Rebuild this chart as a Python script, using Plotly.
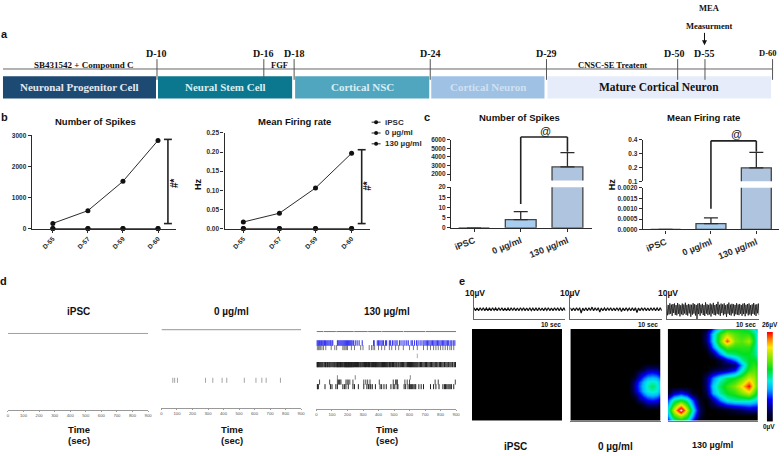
import plotly.graph_objects as go

W, H = 784, 456
FONT = "Liberation Sans"
NARROW = "Liberation Sans Narrow"
DARK = "#2b2b2b"

# ---------- data ----------
stages = ["Neuronal Progenitor Cell", "Neural Stem Cell", "Cortical NSC", "Cortical Neuron", "Mature Cortical Neuron"]
days = ["D-10", "D-16", "D-18", "D-24", "D-29", "D-50", "D-55", "D-60"]
sessions = ["D-55", "D-57", "D-59", "D-60"]
spikes_130 = [165, 575, 1520, 2840]
spikes_0 = [0, 0, 0, 0]
spikes_ipsc = [0, 0, 0, 0]
rate_130 = [0.017, 0.040, 0.106, 0.197]
rate_0 = [0, 0, 0, 0]
rate_ipsc = [0, 0, 0, 0]
groups = ["iPSC", "0 µg/ml", "130 µg/ml"]
group_spikes = [0, 4, 2840]
group_spikes_err = [0, 4, 1660]
group_rate = [0, 0.00028, 0.197]
group_rate_err = [0, 0.00028, 0.113]
raster_ticks = [0, 100, 200, 300, 400, 500, 600, 700, 800, 900]

mid_spikes = [73, 85, 103, 284, 331, 391, 421, 534, 609, 647, 675, 767]
top_segments = [0, 45, None, 48, 125, None, 128, 240, None, 243, 330, None, 333, 420, None, 423, 560, None, 563, 700, None, 703, 900]
blue_spikes = [2, 8, 14, 20, 27, 33, 40, 47, 52, 58, 66, 73, 80, 87, 92, 100, 105, 135, 140, 146, 152, 158, 164, 170, 176, 182,
               188, 194, 200, 206, 212, 218, 224, 230, 238, 250, 262, 275, 295, 368, 372, 392, 400, 408, 416, 424, 432, 445,
               452, 470, 478, 490, 500, 512, 520, 535, 545, 558, 570, 582, 592, 610, 618, 632, 645, 655, 668, 680, 692, 700,
               708, 716, 724, 732, 740, 748, 756, 764, 772, 780, 788, 796, 804, 812, 820, 828, 836, 844, 852, 862, 872, 882, 892]
row3_spikes = [5, 12, 18, 25, 35, 45, 60, 95, 118, 130, 170, 178, 185, 195, 200, 225, 245, 285, 300, 340, 355, 365, 375, 400,
               420, 440, 470, 485, 510, 530, 560, 600, 625, 650, 690, 715, 735, 755, 770, 785, 800, 815, 830, 845, 860, 870, 885]
row4_spikes = [650]
dense_spikes = [2, 7, 12, 18, 24, 30, 36, 42, 50, 58, 62, 70, 75, 82, 88, 95, 105, 112, 118, 125, 131, 136, 140, 145, 150, 155,
                160, 166, 171, 177, 182, 186, 190, 194, 198, 202, 206, 210, 214, 218, 222, 226, 231, 236, 240, 246, 252, 258,
                264, 270, 275, 282, 288, 295, 302, 310, 316, 322, 330, 336, 342, 350, 356, 362, 368, 375, 380, 386, 392, 398,
                404, 410, 416, 421, 426, 432, 438, 444, 450, 456, 462, 470, 476, 482, 490, 497, 505, 512, 518, 526, 532, 540,
                547, 555, 562, 570, 578, 586, 594, 600, 606, 612, 618, 624, 630, 636, 642, 648, 654, 662, 670, 678, 686, 694,
                702, 710, 718, 726, 734, 742, 750, 758, 766, 775, 783, 792, 800, 808, 816, 825, 834, 842, 850, 860, 868, 878, 888, 896]
row6_spikes = [135, 250, 605]
row7_spikes = [20, 85, 135, 142, 148, 152, 158, 190, 198, 205, 215, 235, 305, 318, 330, 345, 405, 495, 510, 515, 522, 570, 585,
               600, 765, 785, 895]
row8_spikes = [5, 8, 12, 55, 90, 100, 125, 135, 170, 180, 190, 205, 235, 245, 270, 305, 325, 335, 345, 350, 360, 380, 410, 420,
               435, 450, 480, 495, 505, 520, 525, 565, 575, 590, 600, 605, 612, 620, 628, 635, 640, 660, 675, 690, 735, 755,
               770, 790, 815, 825, 832, 840, 848, 855, 862, 870, 885]

trace_ipsc = [1.3, -1.2, 1.1, -1.3, 1.2, -1.1, 1.3, -1.2, 1.0, -1.3, 1.2, -1.2, 1.3, -1.0, 1.1, -1.3, 1.2, -1.1, 1.3, -1.2,
              1.1, -1.3, 1.0, -1.2, 1.3, -1.1, 1.2, -1.3, 1.1, -1.2, 1.3, -1.0, 1.2, -1.3, 1.1, -1.2, 1.3, -1.1, 1.0, -1.3,
              1.2, -1.2, 1.3, -1.1, 1.1, -1.3, 1.2, -1.0, 1.3, -1.2, 1.1, -1.3, 1.2, -1.1, 1.3, -1.2, 1.0, -1.3, 1.2, -1.2]
trace_0 = [1.2, -1.2, 1.1, -1.3, 1.2, -1.1, 1.3, -3.2, 1.0, -1.3, 1.2, -1.2, 1.3, -1.0, 1.8, -1.3, 1.2, -1.1, 1.3, -2.4,
           1.1, -1.3, 1.0, -1.2, 1.3, -1.1, 1.2, -1.3, 1.1, -1.2, 1.3, -1.0, 1.2, -2.0, 1.1, -1.2, 1.3, -1.1, 1.0, -1.3,
           1.2, -1.2, 1.3, -2.8, 1.1, -1.3, 1.2, -1.0, 1.3, -1.2, 1.1, -1.3, 1.2, -1.1, 1.3, -1.2, 1.0, -1.3, 1.2, -1.2]
trace_130 = [4.2, -5.1, 3.6, -4.4, 5.0, -3.8, 3.9, -5.6, 4.4, -3.2, 4.9, -4.8, 3.5, -5.2, 5.3, -3.9, 4.1, -6.0, 3.4, -4.3,
             4.8, -5.0, 4.0, -3.6, 5.5, -4.7, 3.7, -5.4, 4.5, -3.5, 4.0, -6.3, 3.8, -4.6, 5.1, -3.7, 4.3, -5.3, 3.6, -8.5,
             4.7, -4.1, 5.2, -5.5, 3.9, -3.4, 4.6, -4.9, 3.5, -5.7, 5.8, -3.8, 4.2, -5.0, 3.7, -4.4, 4.9, -6.1, 4.0, -3.6,
             5.4, -4.8, 3.6, -5.2, 4.4, -3.9, 6.3, -4.5, 3.8, -5.6, 4.8, -3.3, 4.1, -5.1, 5.0, -4.2, 3.5, -6.4, 4.3, -3.7,
             5.6, -4.9, 3.9, -5.3, 4.6, -3.5, 4.2, -5.8, 3.7, -4.3, 5.1, -4.7, 4.0, -5.0, 4.5, -3.8, 3.6, -5.5, 4.7, -4.1,
             5.2, -5.9, 3.8, -3.6, 4.4, -5.2, 4.9, -4.4, 3.5, -5.4, 4.1, -3.9, 5.3, -4.6, 3.9, -5.7, 4.2, -3.4, 4.8, -5.0]

rate_map_x = [0, 19, 38, 57, 76, 95, 115, 135, 155, 178, 200, 222, 244, 258, 271]
rate_map_y = [0, 15, 35, 55, 75, 95, 110, 125, 150, 174, 195, 215, 245, 265, 278]
map_130 = [
    [0, 0, 0, 0, 0, 0, 1, 7, 11, 14, 14, 14, 13, 11, 9],
    [0, 0, 0, 0, 0, 0, 3, 10, 15, 18, 16, 15, 15, 13, 10],
    [0, 0, 0, 0, 0, 0, 3, 10, 16, 23, 17, 16, 18, 14, 10],
    [0, 0, 0, 0, 0, 0, 1, 8, 13, 16, 15, 15, 15, 13, 10],
    [0, 0, 0, 0, 0, 0, 0, 3, 8, 12, 13, 14, 14, 13, 11],
    [0, 0, 0, 0, 0, 0, 0, 0, 2, 5, 8, 12, 14, 14, 13],
    [0, 0, 0, 0, 0, 0, 0, 0, 1, 2, 3, 9, 14, 15, 14],
    [0, 0, 0, 0, 0, 0, 0, 2, 3, 4, 6, 11, 15, 16, 15],
    [0, 0, 0, 0, 0, 0, 3, 8, 11, 13, 14, 16, 19, 18, 15],
    [0, 0, 0, 0, 0, 0, 3, 10, 13, 15, 17, 20, 24, 19, 15],
    [1, 4.5, 6, 4.5, 1, 0, 2, 9, 12, 14, 15, 17, 19, 16, 13],
    [7, 12, 14, 12, 7, 1, 0, 4, 8, 11, 12, 12, 12, 11, 10],
    [11, 19, 27, 19, 11, 3, 0, 0, 0.5, 1, 2, 3, 4, 4, 4],
    [8.5, 15, 18, 15, 8.5, 2, 0, 0, 0, 0, 0, 0, 0, 0, 0],
    [6, 11, 13, 11, 6, 0, 0, 0, 0, 0, 0, 0, 0, 0, 0],
]
mid_map_x = [0, 175, 190, 205, 220, 232, 245, 258, 271]
mid_map_y = [0, 103, 118, 133, 148, 161, 174, 187, 200, 215, 230, 245, 278]
map_0 = [
    [0, 0, 0, 0, 0, 0, 0, 0, 0],
    [0, 0, 0, 0, 0, 0, 0, 0, 0],
    [0, 0, 0, 0, 1.5, 3, 3, 3, 1.5],
    [0, 0, 0, 3, 4.5, 6, 6.5, 6, 4.5],
    [0, 0, 1.5, 4.5, 7.5, 9, 9.5, 9, 7.5],
    [0, 0, 3, 6.5, 9.3, 11, 11.5, 11, 9],
    [0, 0, 3.5, 7, 9.7, 11.5, 13, 11.5, 9.5],
    [0, 0, 3, 6.5, 9.3, 11, 11.5, 11, 9],
    [0, 0, 1.5, 4.5, 7.5, 9, 9.5, 9, 7.5],
    [0, 0, 0, 3, 4.5, 6, 6.5, 6, 4.5],
    [0, 0, 0, 0, 1.5, 3, 3, 3, 1.5],
    [0, 0, 0, 0, 0, 0, 0, 0, 0],
    [0, 0, 0, 0, 0, 0, 0, 0, 0],
]
map_ipsc = [[0, 0], [0, 0]]
scale_levels = [0, 2, 4, 6, 8, 10, 12, 14, 16, 18, 20, 22, 24]

# ---------- styles and positions ----------
stage_colors = ["#1d4a72", "#0b788f", "#50a6bf", "#9fc1e4", "#e6ecfa"]
stage_text = ["#e4e8f0", "#d8eef2", "#d8eef5", "#cfe0f2", "#111111"]
stage_px = [(2, 156), (158, 293), (296, 431), (433, 547), (550, 775)]
day_px = [157, 264.5, 295, 432, 549, 681, 708.5, 776.5]
day_label_px = [157, 264, 295, 432, 549, 678, 708, 771]
HEAT = [[0, "#000000"], [3/27, "#00005a"], [6/27, "#0000ff"], [9/27, "#00b4ff"], [11/27, "#00f0e0"], [14/27, "#00e020"],
        [17/27, "#80e800"], [20/27, "#ffe800"], [22/27, "#ff8000"], [24/27, "#ff0000"], [1, "#ffffff"]]

fig = go.Figure()
ann, shp = [], []
layout = {}
count = 0


def px(x):
    return x / W


def py(y):
    return 1 - y / H


def axes(x0, x1, top, bot, xopts, yopts):
    global count
    count += 1
    sx = "" if count == 1 else str(count)
    base = dict(showgrid=False, zeroline=False, showline=False, ticks="", showticklabels=False)
    xa = dict(base, domain=[px(x0), px(x1)], anchor="y" + sx)
    ya = dict(base, domain=[py(bot), py(top)], anchor="x" + sx)
    xa.update(xopts)
    ya.update(yopts)
    layout["xaxis" + sx] = xa
    layout["yaxis" + sx] = ya
    return "x" + sx, "y" + sx


def text(x, y, s, size=9, bold=True, color="#111111", family=FONT, angle=0, xanchor="center"):
    ann.append(dict(x=px(x), y=py(y), xref="paper", yref="paper", text=s, showarrow=False, xanchor=xanchor, yanchor="middle",
                    textangle=angle, font=dict(size=size, family=family, color=color, weight="bold" if bold else "normal")))


def rect(x0, y0, x1, y1, color):
    shp.append(dict(type="rect", xref="paper", yref="paper", x0=px(x0), x1=px(x1), y0=py(y1), y1=py(y0),
                    fillcolor=color, line=dict(width=0), layer="below"))


def line(x0, y0, x1, y1, color="#555555", width=1):
    shp.append(dict(type="line", xref="paper", yref="paper", x0=px(x0), x1=px(x1), y0=py(y0), y1=py(y1),
                    line=dict(color=color, width=width)))


# ---------- panel a ----------
line(2, 66, 776, 66, "#666666", 1)
for name, (a, b), c, tc in zip(stages, stage_px, stage_colors, stage_text):
    rect(a, 73.5, b, 96, c)
    text((a + b) / 2, 84.5, name, size=11.5 if name.startswith("Mature") else 11, color=tc, family=NARROW)
for d, x, lx in zip(days, day_px, day_label_px):
    line(x, 56, x, 77, "#555555", 1)
    text(lx, 50, d, size=10 if d != "D-60" else 8.5, family=NARROW)
text(83, 61.5, "SB431542 + Compound C", size=9, family=NARROW)
text(280, 62, "FGF", size=8.5, family=NARROW)
text(615, 62, "CNSC-SE Treatent", size=8.5, family=NARROW)
text(713, 4, "MEA", size=8.5, family=NARROW)
text(713, 22, "Measurment", size=8.5, family=NARROW)
ann.append(dict(x=px(708), y=py(42), xref="paper", yref="paper", ax=0, ay=-14, text="", showarrow=True, arrowhead=2,
                arrowsize=1, arrowwidth=1, arrowcolor="#111111"))
text(4, 30, "a", size=11, xanchor="center")

# ---------- panel b ----------
b_tick = dict(size=6.5, family=FONT, color=DARK, weight="bold")
axline = dict(showline=True, linecolor=DARK, linewidth=1.4, ticks="outside", ticklen=3, tickcolor=DARK, tickwidth=1.2,
              showticklabels=True)


def line_panel(x0, x1, top, bot, xr, yr, yticks, fmt, series, bracket):
    xa, ya = axes(x0, x1, top, bot, dict(axline, type="category", categoryorder="array", categoryarray=sessions, range=xr,
                                         tickangle=-45, tickfont=b_tick),
                  dict(axline, range=yr, tickvals=yticks, tickformat=fmt, tickfont=b_tick))
    for s in series:
        fig.add_trace(go.Scatter(x=sessions, y=s, mode="lines+markers", xaxis=xa, yaxis=ya, cliponaxis=False,
                                 line=dict(color=DARK, width=1), marker=dict(color="#111111", size=5), showlegend=False))
    return xa, ya


line_panel(31, 176, 133.5, 228, [-0.6, 3.51], [0, 3000], [0, 1000, 2000, 3000], "d",
           [spikes_ipsc, spikes_0, spikes_130], None)
xa, ya = line_panel(225, 371, 131, 228, [-0.52, 3.5], [0, 0.25], [0, 0.05, 0.10, 0.15, 0.20, 0.25], ".2f",
                    [rate_ipsc, rate_0, rate_130], None)
line(168, 137.5, 168, 223, "#222222", 1.6)
line(164, 137.5, 172, 137.5, "#222222", 1.6)
line(164, 223, 172, 223, "#222222", 1.6)
line(363, 148, 363, 223, "#222222", 1.6)
line(359, 148, 367, 148, "#222222", 1.6)
line(359, 223, 367, 223, "#222222", 1.6)
text(174, 182, "#*", size=10, angle=-90)
text(369, 185, "#*", size=10, angle=-90)
text(198, 183, "Hz", size=9, angle=-90)
text(95, 119, "Number of Spikes", size=9.5)
text(295, 119, "Mean Firing rate", size=9.5)
text(4, 115, "b", size=11)
for y, label, mk in zip([120, 131, 142], groups, ["star", "circle", "circle"]):
    line(373, y, 382, y, DARK, 1)
    shp.append(dict(type="circle", xref="paper", yref="paper", x0=px(375.5), x1=px(379.5), y0=py(y + 2), y1=py(y - 2),
                    fillcolor="#111111", line=dict(width=0)))
    text(384, y, label, size=8, xanchor="left", color=DARK)

# ---------- panel c ----------
c_tick = dict(size=6.5, family=FONT, color=DARK, weight="bold")
c_xtick = dict(size=9, family=FONT, color=DARK, weight="bold")
bar_colors = ["#a8cdee", "#a8cdee", "#afc4de"]


def bar_panel(x0, x1, up, low, xr, vals, errs, up_range, up_ticks, up_fmt, low_range, low_ticks, low_fmt):
    xa, ya = axes(x0, x1, low[0], low[1], dict(axline, type="category", categoryorder="array", categoryarray=groups, range=xr,
                                               tickangle=-22, tickfont=c_xtick),
                  dict(axline, range=low_range, tickvals=low_ticks, tickformat=low_fmt, tickfont=c_tick))
    xb, yb = axes(x0, x1, up[0], up[1], dict(type="category", categoryorder="array", categoryarray=groups, range=xr),
                  dict(axline, range=up_range, tickvals=up_ticks, tickformat=up_fmt, tickfont=c_tick))
    for xx, yy in ((xa, ya), (xb, yb)):
        fig.add_trace(go.Bar(x=groups, y=vals, xaxis=xx, yaxis=yy, width=0.66, showlegend=False,
                             marker=dict(color=bar_colors, line=dict(color="#444444", width=1.3)),
                             error_y=dict(type="data", array=errs, color=DARK, thickness=1.3, width=7, symmetric=False,
                                          arrayminus=[0, 0, 0])))
    return xa


xc1 = bar_panel(453, 595, (138, 179.3), (186, 227.3), [-0.49, 2.53], group_spikes, group_spikes_err,
                [1240, 6000], [2000, 3000, 4000, 5000, 6000], "d", [0, 20], [0, 5, 10, 15, 20], "d")
xc2 = bar_panel(646, 783, (138, 180), (186.7, 229), [-0.5, 2.5], group_rate, group_rate_err,
                [0.1, 0.4], [0.1, 0.2, 0.3, 0.4], ".1f", [0, 0.002], [0, 0.0005, 0.001, 0.0015, 0.002], ".4f")


def bracket(xa, left, right, y_left, y_top, y_right):
    for a, b, c, d in ((left, y_left, left, y_top), (left, y_top, right, y_top), (right, y_top, right, y_right)):
        shp.append(dict(type="line", xref=xa, yref="paper", x0=a, x1=c, y0=py(b), y1=py(d),
                        line=dict(color="#222222", width=1.6)))


bracket(xc1, 1, 2, 203, 135, 150)
bracket(xc2, 1, 2, 208, 139, 150)
text(548, 129, "@", size=11, bold=False)
text(740, 132, "@", size=11, bold=False)
text(522, 115, "Number of Spikes", size=9.5)
text(707, 115, "Mean Firing rate", size=9.5)
text(429, 115, "c", size=11)
text(615, 183, "Hz", size=9, angle=-90)

# ---------- panel d ----------
d_x = dict(range=[0, 900], tickvals=raster_ticks, showline=True, linecolor="#999999", linewidth=1, ticks="outside", ticklen=1.5,
           tickcolor="#999999", tickwidth=0.6, showticklabels=True, tickfont=dict(size=4.2, family=FONT, color="#555555"))
d_y = dict(range=[-0.8, 17])


def row(t, ch, xa, ya, color="#444444", size=3.6, width=0.8):
    fig.add_trace(go.Scatter(x=t, y=[ch] * len(t), mode="markers", xaxis=xa, yaxis=ya, showlegend=False,
                             marker=dict(symbol="line-ns", size=size, line=dict(color=color, width=width))))


def full_line(xa, ya, color, width):
    fig.add_trace(go.Scatter(x=[0, 900], y=[16, 16], mode="lines", xaxis=xa, yaxis=ya, showlegend=False,
                             line=dict(color=color, width=width)))


xa, ya = axes(7, 148, 330, 412, d_x, d_y)
full_line(xa, ya, "#888888", 0.8)
xa, ya = axes(161.5, 302, 326, 410, d_x, d_y)
full_line(xa, ya, "#aaaaaa", 1.3)
row(mid_spikes, 5.1, xa, ya, "#666666", 3.6, 0.6)
xa, ya = axes(317.5, 458, 328, 411, d_x, d_y)
fig.add_trace(go.Scatter(x=top_segments, y=[16 if v is not None else None for v in top_segments], mode="lines", xaxis=xa,
                         yaxis=ya, showlegend=False, line=dict(color="#777777", width=1)))
row(blue_spikes, 13.5, xa, ya, "#3a3af0", 4, 1.1)
row(row3_spikes, 12.5, xa, ya, "#555555", 3.6, 0.8)
row(row4_spikes, 10.7, xa, ya, "#777777", 3.2, 0.6)
row(dense_spikes, 8.8, xa, ya, "#222222", 3.6, 1.2)
row(row6_spikes, 6, xa, ya, "#555555", 3.2, 0.7)
row(row7_spikes, 5, xa, ya, "#333333", 3.6, 0.9)
row(row8_spikes, 4, xa, ya, "#222222", 3.6, 1)
for cx, name in zip([78, 232, 388], groups):
    text(cx, 312, name, size=10)
    text(cx, 432, "Time", size=9.5)
    text(cx, 443, "(sec)", size=9.5)
text(3, 281, "d", size=11)

# ---------- panel e ----------
tr_y = dict(range=[-8.33, 11.67], showline=True, linecolor="#666666", linewidth=1)
tr_x = dict(range=[0, 10], showline=True, linecolor="#666666", linewidth=1)
for (x0, x1), tr, w, lab, c10 in zip([(476, 568), (573, 665), (670, 763)], [trace_ipsc, trace_0, trace_130], [1.2, 1.2, 0.8],
                                     [566, 663, 762], [477, 573, 671]):
    xa, ya = axes(x0, x1, 296, 320, tr_x, tr_y)
    fig.add_trace(go.Scatter(x0=0, dx=10 / (len(tr) - 1), y=tr, mode="lines", xaxis=xa, yaxis=ya, showlegend=False,
                             line=dict(color="#111111", width=w)))
    text(lab, 325, "10 sec", size=6.5, xanchor="right")
    text(c10, 294, "10µV", size=8.5)
hm_x = dict(range=[0, 271])
hm_y = dict(range=[278, 0])
hm_b = dict(hm_x, showline=True, linecolor="#777777", linewidth=1)
for (x0, x1), z, xs, ys, xo in zip([(474, 565), (573, 664), (671, 762)], [map_ipsc, map_0, map_130],
                                   [[0, 271], mid_map_x, rate_map_x], [[0, 278], mid_map_y, rate_map_y], [hm_x, hm_b, hm_b]):
    xa, ya = axes(x0, x1, 330, 423, xo, hm_y)
    fig.add_trace(go.Heatmap(x=xs, y=ys, z=z, xaxis=xa, yaxis=ya, zmin=0, zmax=27, colorscale=HEAT, zsmooth="best",
                             showscale=False, hoverinfo="skip"))
xa, ya = axes(770.7, 777, 333, 424, dict(range=[0, 1]), dict(range=[0, 24]))
fig.add_trace(go.Heatmap(x=[0, 1], y=scale_levels, z=[[v, v] for v in scale_levels], xaxis=xa, yaxis=ya, zmin=0, zmax=27,
                         colorscale=HEAT, zsmooth="best", showscale=False, hoverinfo="skip"))
text(774, 326, "26µV", size=6.5)
text(773, 430, "0µV", size=6.5)
text(518, 449, "iPSC", size=10)
text(618, 449, "0 µg/ml", size=10)
text(716, 448, "130 µg/ml", size=9)
text(464, 281, "e", size=11)

fig.update_layout(width=W, height=H, margin=dict(l=0, r=0, t=0, b=0), paper_bgcolor="white", plot_bgcolor="white",
                  showlegend=False, annotations=ann, shapes=shp, font=dict(family=FONT), bargap=0.3, **layout)
fig.write_html("out.html", post_script="document.body.style.margin='0';", config=dict(displayModeBar=False))
